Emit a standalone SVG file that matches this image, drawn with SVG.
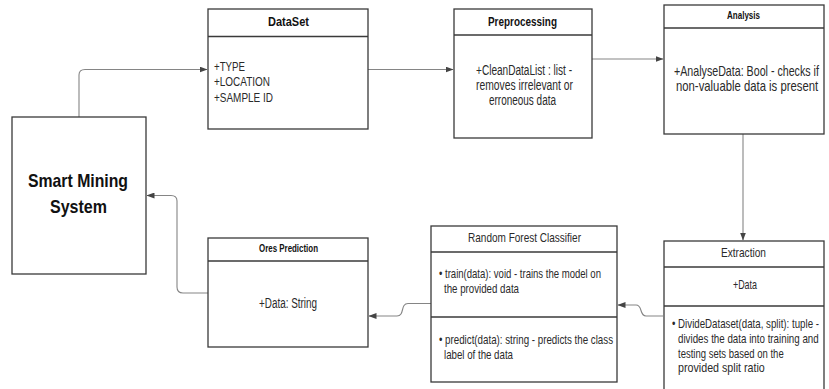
<svg xmlns="http://www.w3.org/2000/svg" width="829" height="389" viewBox="0 0 829 389">
<defs>
<marker id="arr" markerWidth="8" markerHeight="6" refX="7.5" refY="3" orient="auto" markerUnits="userSpaceOnUse">
<path d="M0,0 L8,3 L0,6 Z" fill="#444"/>
</marker>
<style>
.box{fill:#fff;stroke:#3a3a3a;stroke-width:1.3}
.div{stroke:#3a3a3a;stroke-width:1.3}
.con{fill:none;stroke:#858585;stroke-width:1.1;marker-end:url(#arr)}
text{font-family:"Liberation Sans",Arial,sans-serif;fill:#2a2a2a}
.tb{font-weight:bold;fill:#111}
.big{font-weight:bold;font-size:19px;fill:#111}
.b14{font-size:14px}
.b13{font-size:13px}
.t13{font-size:13px}
.t10{font-size:10px}
</style>
</defs>
<rect width="829" height="389" fill="#fff"/>

<g id="connectors">
<path class="con" d="M79,117 V75 Q79,69.5 85,69.5 H207"/>
<path class="con" d="M368,69.5 H453"/>
<path class="con" d="M592,59 H663"/>
<path class="con" d="M743,134 V240"/>
<path class="con" d="M663,316 H646 C639,316 643,305 636,305 H618"/>
<path class="con" d="M431,303.5 H408 C400,303.5 405,316 397,316 H369"/>
<path class="con" d="M208,293 H183 Q177,293 177,287 V201 Q177,195.5 171,195.5 H147"/>
</g>

<g id="smart-mining-system">
<rect class="box" x="12" y="117" width="134" height="157"/>
<text class="big" x="28" y="187" textLength="100" lengthAdjust="spacingAndGlyphs">Smart Mining</text>
<text class="big" x="50" y="213" textLength="57" lengthAdjust="spacingAndGlyphs">System</text>
</g>

<g id="dataset">
<rect class="box" x="208" y="9" width="160" height="120"/>
<line class="div" x1="208" y1="36.5" x2="368" y2="36.5"/>
<text class="tb t13" x="268" y="26" textLength="41" lengthAdjust="spacingAndGlyphs">DataSet</text>
<text class="b13" x="214" y="70.5" textLength="31" lengthAdjust="spacingAndGlyphs">+TYPE</text>
<text class="b13" x="214" y="86" textLength="56" lengthAdjust="spacingAndGlyphs">+LOCATION</text>
<text class="b13" x="214" y="101.5" textLength="59" lengthAdjust="spacingAndGlyphs">+SAMPLE ID</text>
</g>

<g id="preprocessing">
<rect class="box" x="454" y="9" width="138" height="129"/>
<line class="div" x1="454" y1="35" x2="592" y2="35"/>
<text class="tb t13" x="488" y="26" textLength="69" lengthAdjust="spacingAndGlyphs">Preprocessing</text>
<text class="b14" x="476" y="74.5" textLength="96" lengthAdjust="spacingAndGlyphs">+CleanDataList : list -</text>
<text class="b14" x="476" y="89.5" textLength="97" lengthAdjust="spacingAndGlyphs">removes irrelevant or</text>
<text class="b14" x="489" y="104.5" textLength="67" lengthAdjust="spacingAndGlyphs">erroneous data</text>
</g>

<g id="analysis">
<rect class="box" x="664" y="5" width="160" height="129"/>
<line class="div" x1="664" y1="28" x2="824" y2="28"/>
<text class="tb t10" x="727" y="19" textLength="33" lengthAdjust="spacingAndGlyphs">Analysis</text>
<text class="b14" transform="translate(674,76) scale(0.7,1)" x="0" y="0" textLength="207" lengthAdjust="spacingAndGlyphs">+AnalyseData: Bool - checks if</text>
<text class="b14" transform="translate(676,91) scale(0.7,1)" x="0" y="0" textLength="203" lengthAdjust="spacingAndGlyphs">non-valuable data is present</text>
</g>

<g id="extraction">
<rect class="box" x="664" y="241" width="160" height="152"/>
<line class="div" x1="664" y1="267" x2="824" y2="267"/>
<line class="div" x1="664" y1="306" x2="824" y2="306"/>
<text class="t13" x="721" y="257" textLength="45" lengthAdjust="spacingAndGlyphs">Extraction</text>
<text class="b13" x="733" y="289" textLength="24" lengthAdjust="spacingAndGlyphs">+Data</text>
<text class="b13" transform="translate(672,328) scale(0.7,1)" x="0" y="0" textLength="210" lengthAdjust="spacingAndGlyphs">• DivideDataset(data, split): tuple -</text>
<text class="b13" transform="translate(678,343) scale(0.7,1)" x="0" y="0" textLength="201" lengthAdjust="spacingAndGlyphs">divides the data into training and</text>
<text class="b13" transform="translate(678,357.5) scale(0.7,1)" x="0" y="0" textLength="151" lengthAdjust="spacingAndGlyphs">testing sets based on the</text>
<text class="b13" transform="translate(678,372) scale(0.7,1)" x="0" y="0" textLength="124" lengthAdjust="spacingAndGlyphs">provided split ratio</text>
</g>

<g id="random-forest-classifier">
<rect class="box" x="431" y="226" width="186" height="156"/>
<line class="div" x1="431" y1="252" x2="617" y2="252"/>
<line class="div" x1="431" y1="317" x2="617" y2="317"/>
<text class="t13" x="468" y="242" textLength="113" lengthAdjust="spacingAndGlyphs">Random Forest Classifier</text>
<text class="b13" x="439" y="278" textLength="162" lengthAdjust="spacingAndGlyphs">• train(data): void - trains the model on</text>
<text class="b13" x="444" y="293" textLength="75" lengthAdjust="spacingAndGlyphs">the provided data</text>
<text class="b13" x="439" y="343.5" textLength="174" lengthAdjust="spacingAndGlyphs">• predict(data): string - predicts the class</text>
<text class="b13" x="444" y="358.5" textLength="69" lengthAdjust="spacingAndGlyphs">label of the data</text>
</g>

<g id="ores-prediction">
<rect class="box" x="208" y="238" width="160" height="109"/>
<line class="div" x1="208" y1="261" x2="368" y2="261"/>
<text class="tb t10" x="259" y="252" textLength="59" lengthAdjust="spacingAndGlyphs">Ores Prediction</text>
<text class="b14" x="259" y="308" textLength="58" lengthAdjust="spacingAndGlyphs">+Data: String</text>
</g>
</svg>
